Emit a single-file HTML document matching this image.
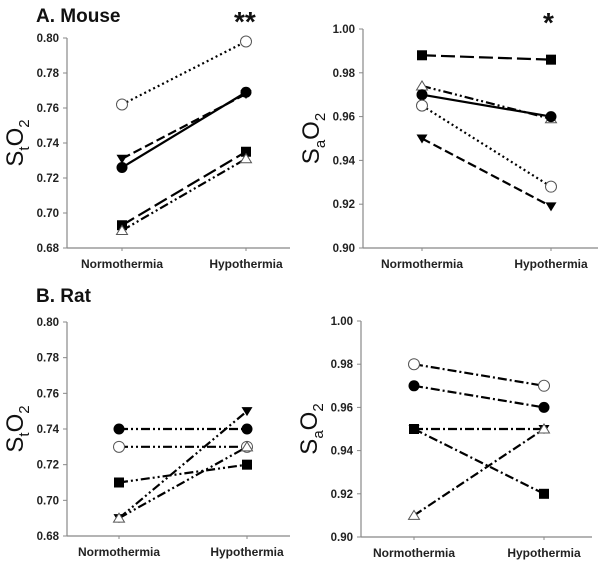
<!DOCTYPE html>
<html><head><meta charset="utf-8"><style>
body{margin:0;background:#fff;width:600px;height:561px;overflow:hidden}
svg{display:block}
text{font-family:"Liberation Sans",Arial,sans-serif}
</style></head><body>
<svg id="c" width="600" height="561" viewBox="0 0 600 561"></svg>
<script>
const categories = ["Normothermia","Hypothermia"];
// Panel A left (mouse StO2)
const aLeftTicks = ["0.68","0.70","0.72","0.74","0.76","0.78","0.80"];
const aLeftOpenCircle = [0.762,0.798];
const aLeftFilledCircle = [0.726,0.769];
const aLeftDownTri = [0.731,0.768];
const aLeftSquare = [0.693,0.735];
const aLeftOpenTri = [0.690,0.731];
// Panel A right (mouse SaO2)
const aRightTicks = ["0.90","0.92","0.94","0.96","0.98","1.00"];
const aRightSquare = [0.988,0.986];
const aRightOpenTri = [0.974,0.959];
const aRightFilledCircle = [0.970,0.960];
const aRightOpenCircle = [0.965,0.928];
const aRightDownTri = [0.950,0.919];
// Panel B left (rat StO2)
const bLeftTicks = ["0.68","0.70","0.72","0.74","0.76","0.78","0.80"];
const bLeftFilledCircle = [0.74,0.74];
const bLeftOpenCircle = [0.73,0.73];
const bLeftSquare = [0.71,0.72];
const bLeftDownTri = [0.69,0.75];
const bLeftOpenTri = [0.69,0.73];
// Panel B right (rat SaO2)
const bRightTicks = ["0.90","0.92","0.94","0.96","0.98","1.00"];
const bRightOpenCircle = [0.98,0.97];
const bRightFilledCircle = [0.97,0.96];
const bRightDownTri = [0.95,0.95];
const bRightSquare = [0.95,0.92];
const bRightOpenTri = [0.91,0.95];

const NS="http://www.w3.org/2000/svg";
const svg=document.getElementById('c');
function el(tag,attrs,parent){const e=document.createElementNS(NS,tag);for(const k in attrs)e.setAttribute(k,attrs[k]);(parent||svg).appendChild(e);return e;}

const DOT="2,3", SOLID="none", DASH="9,4", LDASH="14,5", DDOT="9,3,2,3,2,3", DASHDOT="9,3,2,3";

function panel(name,cfg){
  const g=el('g',{});
  
  
  const ticks=cfg.ticks, lo=+ticks[0], hi=+ticks[ticks.length-1];
  const y=v=>cfg.yBot-(v-lo)/(hi-lo)*(cfg.yBot-cfg.yTop);
  const x=i=>cfg.xc[i];
  const ax=el('line',{x1:cfg.ax,y1:cfg.yTop,x2:cfg.ax,y2:cfg.yBot,stroke:'#888','stroke-width':1.2},g);
  
  const xa=el('line',{x1:cfg.ax,y1:cfg.yBot,x2:cfg.xEnd,y2:cfg.yBot,stroke:'#888','stroke-width':1.2},g);
  
  ticks.forEach(t=>{
    const yy=y(+t);
    el('line',{x1:cfg.ax-4,y1:yy,x2:cfg.ax,y2:yy,stroke:'#888'},g);
    const tx=el('text',{x:cfg.ax-8,y:yy+4,'text-anchor':'end','font-size':11.5,'font-weight':'bold',fill:'#222'},g);
    tx.textContent=t;
    
  });
  categories.forEach((c,i)=>{
    el('line',{x1:x(i),y1:cfg.yBot,x2:x(i),y2:cfg.yBot+3,stroke:'#888'},g);
    const tx=el('text',{x:x(i),y:cfg.yBot+20,'text-anchor':'middle','font-size':12,'font-weight':'bold',fill:'#222'},g);
    tx.textContent=c;
    
  });
  const yt=el('text',{transform:`translate(${cfg.ax-44},${(cfg.yTop+cfg.yBot)/2}) rotate(-90)`,'text-anchor':'middle','font-size':24,fill:'#111'},g);
  yt.innerHTML=`S<tspan font-size="15" dy="6">${cfg.sub}</tspan><tspan dy="-6">O</tspan><tspan font-size="15" dy="6">2</tspan>`;
  
  cfg.series.forEach(s=>{
    const sg=el('g',{},g);
    
    el('line',{x1:x(0),y1:y(s.v[0]),x2:x(1),y2:y(s.v[1]),stroke:'#000','stroke-width':2.2,'stroke-dasharray':s.d},sg);
    s.v.forEach((v,i)=>marker(sg,s.m,x(i),y(v)));
  });
}
function marker(g,m,cx,cy){
  let e;
  if(m==='fc') e=el('circle',{cx,cy,r:5.5,fill:'#000'},g);
  else if(m==='oc') e=el('circle',{cx,cy,r:5.5,fill:'#fff',stroke:'#555'},g);
  else if(m==='sq') e=el('rect',{x:cx-5,y:cy-5,width:10,height:10,fill:'#000'},g);
  else if(m==='dt') e=el('polygon',{points:`${cx-5.5},${cy-4} ${cx+5.5},${cy-4} ${cx},${cy+5}`,fill:'#000'},g);
  else e=el('polygon',{points:`${cx-5.5},${cy+4} ${cx+5.5},${cy+4} ${cx},${cy-5}`,fill:'#fff',stroke:'#555'},g);
  
  
}

panel('panel-a-mouse-sto2',{ticks:aLeftTicks,ax:67,yTop:38,yBot:248,xEnd:290,xc:[122,246],sub:'t',series:[
 {v:aLeftOpenCircle,m:'oc',d:DOT},{v:aLeftDownTri,m:'dt',d:DASH},{v:aLeftFilledCircle,m:'fc',d:SOLID},
 {v:aLeftSquare,m:'sq',d:LDASH},{v:aLeftOpenTri,m:'ot',d:DDOT}]});
panel('panel-a-mouse-sao2',{ticks:aRightTicks,ax:363,yTop:29,yBot:248,xEnd:598,xc:[422,551],sub:'a',series:[
 {v:aRightSquare,m:'sq',d:LDASH},{v:aRightOpenTri,m:'ot',d:DDOT},{v:aRightFilledCircle,m:'fc',d:SOLID},
 {v:aRightOpenCircle,m:'oc',d:DOT},{v:aRightDownTri,m:'dt',d:DASH}]});
panel('panel-b-rat-sto2',{ticks:bLeftTicks,ax:67,yTop:322,yBot:536,xEnd:290,xc:[119,247],sub:'t',series:[
 {v:bLeftFilledCircle,m:'fc',d:DDOT},{v:bLeftOpenCircle,m:'oc',d:DDOT},{v:bLeftSquare,m:'sq',d:DDOT},
 {v:bLeftDownTri,m:'dt',d:DDOT},{v:bLeftOpenTri,m:'ot',d:DDOT}]});
panel('panel-b-rat-sao2',{ticks:bRightTicks,ax:361,yTop:321,yBot:537,xEnd:592,xc:[414,544],sub:'a',series:[
 {v:bRightOpenCircle,m:'oc',d:DASHDOT},{v:bRightFilledCircle,m:'fc',d:DASHDOT},{v:bRightDownTri,m:'dt',d:DASHDOT},
 {v:bRightSquare,m:'sq',d:DASHDOT},{v:bRightOpenTri,m:'ot',d:DASHDOT}]});

function label(txt,x,y,size,name){const t=el('text',{x,y,'font-size':size,'font-weight':'bold',fill:'#111'});t.textContent=txt;
 }
label('A. Mouse',36,22,19,'panel-a-title');
label('B. Rat',36,302,19,'panel-b-title');
label('**',234,31,28,'significance-a-left');
label('*',543,32,28,'significance-a-right');
</script>
</body></html>
